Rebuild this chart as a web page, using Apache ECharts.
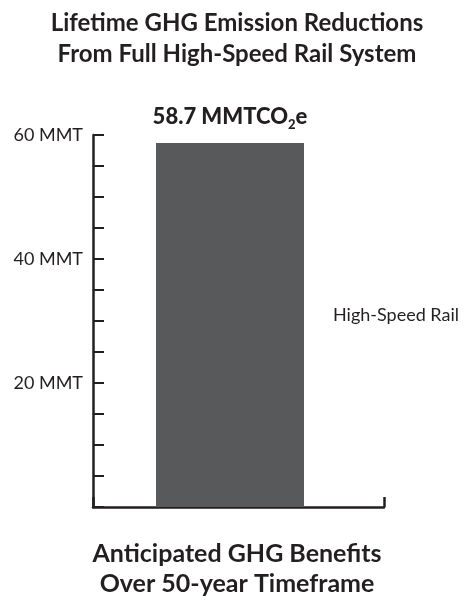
<!DOCTYPE html>
<html>
<head>
<meta charset="utf-8">
<script src="https://cdn.jsdelivr.net/npm/echarts@6/dist/echarts.min.js"></script>
<style>
  html, body { margin: 0; padding: 0; background: #ffffff; }
  #chart { width: 474px; height: 606px; }
</style>
</head>
<body>
<div id="chart"></div>
<script>
// Chart data
const categories = ['High-Speed Rail'];
const reductions = [58.7];            // lifetime GHG reductions, MMT CO2e
const yTickLabels = { 20: '20 MMT', 40: '40 MMT', 60: '60 MMT' };
const titleLines = ['Lifetime GHG Emission Reductions', 'From Full High-Speed Rail System'];
const footerLines = ['Anticipated GHG Benefits', 'Over 50-year Timeframe'];

const ink = '#231f20';
const barColor = '#58595b';
const font = 'Lato, sans-serif';

const chart = echarts.init(document.getElementById('chart'), null, { renderer: 'canvas' });

chart.setOption({
  animation: false,
  backgroundColor: '#ffffff',
  textStyle: { fontFamily: font, color: ink },
  title: [
    {
      text: titleLines.join('\n'),
      left: 'center',
      top: 3,
      textStyle: { fontFamily: font, fontSize: 24, fontWeight: 'bold', color: ink, lineHeight: 31 }
    },
    {
      text: footerLines.join('\n'),
      left: 'center',
      top: 534,
      textStyle: { fontFamily: font, fontSize: 25, fontWeight: 'bold', color: ink, lineHeight: 30 }
    }
  ],
  legend: {
    data: [categories[0]],
    left: 323,
    top: 301,
    itemWidth: 0,
    itemHeight: 0,
    selectedMode: false,
    textStyle: { fontFamily: font, fontSize: 18, color: ink }
  },
  grid: [
    // plot area for the bar and the value axis
    { left: 93, right: 107, top: 135, bottom: 99 },
    // full-width baseline
    { left: 93, right: 90, top: 135, bottom: 99 }
  ],
  xAxis: [
    {
      gridIndex: 0,
      type: 'category',
      data: categories,
      axisLine: { show: false },
      axisTick: { show: false },
      axisLabel: { show: false }
    },
    {
      gridIndex: 1,
      type: 'category',
      data: categories,
      boundaryGap: true,
      axisLine: { show: true, lineStyle: { color: ink, width: 2.5 } },
      axisTick: { show: true, inside: true, length: 10, lineStyle: { color: ink, width: 2.5 } },
      axisLabel: { show: false }
    }
  ],
  yAxis: [
    {
      gridIndex: 0,
      type: 'value',
      min: 0,
      max: 60,
      interval: 5,
      splitLine: { show: false },
      axisLine: { show: true, lineStyle: { color: ink, width: 2.5 } },
      axisTick: { show: true, inside: true, length: 11, lineStyle: { color: ink, width: 2 } },
      axisLabel: {
        margin: 10,
        fontFamily: font,
        fontSize: 18,
        color: ink,
        formatter: v => yTickLabels[v] || ''
      }
    },
    {
      gridIndex: 1,
      type: 'value',
      min: 0,
      max: 60,
      show: false
    }
  ],
  series: [
    {
      name: categories[0],
      type: 'bar',
      xAxisIndex: 0,
      yAxisIndex: 0,
      data: reductions,
      barWidth: 148,
      itemStyle: { color: barColor },
      label: {
        show: true,
        position: 'top',
        distance: 12,
        formatter: p => '{a|' + p.value + ' MMTCO}{s|2}{a|e}',
        rich: {
          a: { fontFamily: font, fontSize: 22, fontWeight: 900, color: ink },
          s: { fontFamily: font, fontSize: 13, fontWeight: 900, color: ink, padding: [16, 0, 0, 0] }
        }
      }
    }
  ]
});
</script>
</body>
</html>
